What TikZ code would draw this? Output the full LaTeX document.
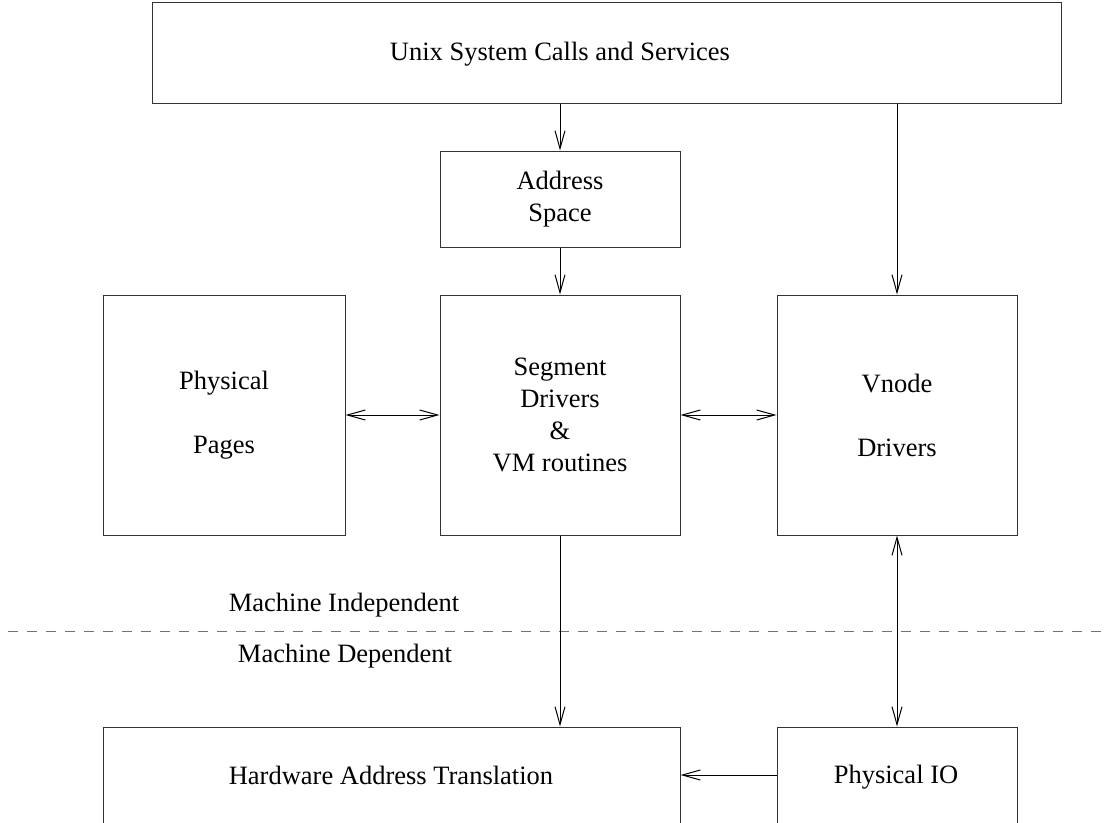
\documentclass[tikz,border=0pt]{standalone}
\usepackage{fontspec}
\setmainfont{Liberation Serif}
\usetikzlibrary{arrows.meta}
\tikzset{
  box/.style={draw=black!80, line width=1pt, rectangle, inner sep=0pt, align=center,
    font=\fontsize{26.5}{32}\selectfont},
  txt/.style={inner sep=0pt, align=center, font=\fontsize{26.5}{32}\selectfont},
  arr/.style={draw=black, line width=1pt, -{Straight Barb[length=18pt,width=10pt,line width=1pt]}},
  biarr/.style={draw=black, line width=1pt, {Straight Barb[length=18pt,width=10pt,line width=1pt]}-{Straight Barb[length=18pt,width=10pt,line width=1pt]}},
}
\begin{document}
\begin{tikzpicture}[x=1pt,y=-1pt]
\path[clip] (0,0) rectangle (1107,822);
\fill[white] (0,0) rectangle (1107,822);
% boxes
\node[box, minimum width=909pt, minimum height=101pt] (sys) at (606.5,52.5) {};
\node[txt] (systxt) at (560,54) {Unix System Calls and Services};
\node[box, minimum width=240pt, minimum height=96pt] (adr) at (560,199) {Address\\Space};
\node[box, minimum width=240pt, minimum height=240pt] (seg) at (560,415) {Segment\\Drivers\\\&\\VM routines};
\node[box, minimum width=242pt, minimum height=240pt] (pp) at (224,415) {Physical\\[32pt]Pages};
\node[box, minimum width=240pt, minimum height=240pt] (vn) at (897,415) {Vnode\\[32pt]Drivers};
\node[box, minimum width=577pt, minimum height=146pt] (hat) at (391.5,800) {};
\node[txt] (hattxt) at (391,775) {Hardware Address Translation};
\node[box, minimum width=240pt, minimum height=146pt] (pio) at (897,800) {};
\node[txt] (piotxt) at (896,777) {Physical IO};
% divider
\draw[black!55, line width=1pt, dash pattern=on 10pt off 9pt] (8,631) -- (1107,631);
\node[txt] (mi) at (344,605) {Machine Independent};
\node[txt] (md) at (345,656) {Machine Dependent};
% connectors
\draw[arr] (sys.south -| adr.north) -- (adr.north);
\draw[arr] (adr.south) -- (seg.north);
\draw[arr] (sys.south -| vn.north) -- (vn.north);
\draw[biarr] (pp.east) -- (seg.west);
\draw[biarr] (seg.east) -- (vn.west);
\draw[arr] (seg.south) -- (seg.south |- hat.north);
\draw[biarr] (vn.south) -- (pio.north);
\draw[arr] ([yshift=25pt]pio.west) -- ([yshift=25pt]hat.east);
\end{tikzpicture}
\end{document}
